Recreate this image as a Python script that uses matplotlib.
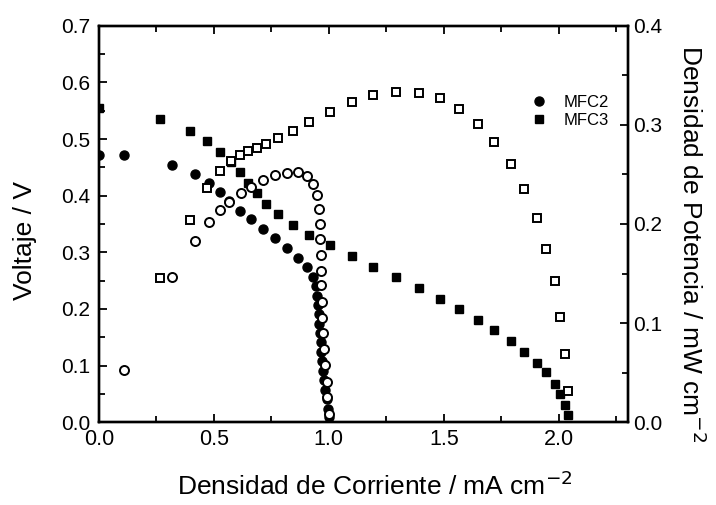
import numpy as np
import matplotlib
matplotlib.use("Agg")
import matplotlib.pyplot as plt
from matplotlib.ticker import MultipleLocator, FormatStrFormatter

plt.rcParams['font.family'] = ['Liberation Sans', 'DejaVu Sans']

# MFC2 - polarization (filled circles) and power (open circles)
i_mfc2 = [0.0, 0.11, 0.319, 0.416, 0.478, 0.526, 0.568, 0.614, 0.661, 0.714,
          0.767, 0.819, 0.867, 0.904, 0.930, 0.943, 0.949, 0.954, 0.956, 0.958,
          0.961, 0.964, 0.967, 0.971, 0.975, 0.980, 0.984, 0.990, 0.996, 1.0]
v_mfc2 = [0.471, 0.472, 0.455, 0.439, 0.423, 0.406, 0.390, 0.373, 0.358, 0.341,
          0.325, 0.307, 0.290, 0.274, 0.257, 0.240, 0.223, 0.207, 0.191, 0.174,
          0.158, 0.141, 0.124, 0.108, 0.091, 0.074, 0.057, 0.041, 0.024, 0.009]
ip_mfc2 = [0.11, 0.319, 0.416, 0.478, 0.526, 0.568, 0.616, 0.661, 0.713, 0.765,
           0.820, 0.868, 0.904, 0.932, 0.949, 0.958, 0.961, 0.961, 0.964, 0.964,
           0.967, 0.970, 0.971, 0.975, 0.980, 0.984, 0.990, 0.994, 1.001]
p_mfc2 = [0.053, 0.146, 0.183, 0.202, 0.214, 0.222, 0.231, 0.237, 0.244, 0.249,
          0.251, 0.252, 0.248, 0.240, 0.229, 0.215, 0.200, 0.185, 0.169, 0.153,
          0.138, 0.121, 0.105, 0.090, 0.074, 0.058, 0.041, 0.025, 0.008]

# MFC3 - polarization (filled squares) and power (open squares)
i_mfc3 = [0.0, 0.265, 0.396, 0.472, 0.527, 0.574, 0.613, 0.649, 0.686, 0.728,
          0.781, 0.843, 0.915, 1.004, 1.099, 1.193, 1.294, 1.39, 1.483, 1.565,
          1.648, 1.719, 1.79, 1.848, 1.904, 1.946, 1.984, 2.004, 2.026, 2.038]
v_mfc3 = [0.554, 0.535, 0.515, 0.496, 0.477, 0.460, 0.441, 0.423, 0.404, 0.386,
          0.367, 0.348, 0.330, 0.312, 0.293, 0.274, 0.256, 0.237, 0.218, 0.199,
          0.181, 0.162, 0.143, 0.124, 0.105, 0.088, 0.068, 0.049, 0.030, 0.012]
p_mfc3 = [0.145, 0.204, 0.236, 0.253, 0.264, 0.270, 0.274, 0.277, 0.281,
          0.287, 0.294, 0.303, 0.313, 0.323, 0.330, 0.333, 0.332, 0.327, 0.316,
          0.301, 0.283, 0.261, 0.235, 0.206, 0.175, 0.142, 0.106, 0.069, 0.031]

fig = plt.figure(figsize=(7.16, 5.05), dpi=100)
ax = fig.add_axes([0.138, 0.164, 0.739, 0.785])
ax2 = ax.twinx()

ax.plot(i_mfc2, v_mfc2, 'o', color='black', ms=6.5, label='MFC2', zorder=2)
ax.plot(i_mfc3, v_mfc3, 's', color='black', ms=5.7, label='MFC3', zorder=2)
ax2.plot(ip_mfc2, p_mfc2, 'o', mfc='white', mec='black', mew=1.4, ms=6.5)
ax2.plot(i_mfc3[1:], p_mfc3, 's', mfc='white', mec='black', mew=1.4, ms=5.3)

ax.set_xlim(0, 2.3)
ax.set_ylim(0, 0.7)
ax2.set_ylim(0, 0.4)

ax.xaxis.set_major_locator(MultipleLocator(0.5))
ax.xaxis.set_minor_locator(MultipleLocator(0.25))
ax.yaxis.set_major_locator(MultipleLocator(0.1))
ax.yaxis.set_minor_locator(MultipleLocator(0.05))
ax2.yaxis.set_major_locator(MultipleLocator(0.1))
ax2.yaxis.set_minor_locator(MultipleLocator(0.05))

for a in (ax, ax2):
    for s in a.spines.values():
        s.set_linewidth(1.7)
ax.tick_params(which='both', direction='in', top=True, right=False, width=1.3)
ax.tick_params(axis='x', labelsize=15.5, pad=5)
ax.tick_params(axis='y', labelsize=15, pad=6)
ax.tick_params(which='major', length=6)
ax.tick_params(which='minor', length=4)
ax2.tick_params(which='both', direction='in', width=1.3, labelsize=15, pad=4)
ax2.tick_params(which='major', length=6)
ax2.tick_params(which='minor', length=4)
ax.xaxis.set_major_formatter(FormatStrFormatter('%.1f'))
ax.yaxis.set_major_formatter(FormatStrFormatter('%.1f'))
ax2.yaxis.set_major_formatter(FormatStrFormatter('%.1f'))

fig.text(177 / 716, 1 - 495 / 505, 'Densidad de Corriente / mA cm$^{-2}$',
         fontsize=19, ha='left', va='baseline')
fig.text(25 / 716, 1 - 241 / 505, 'Voltaje / V', fontsize=19,
         rotation=90, ha='center', va='center')
fig.text(691 / 716, 1 - 244 / 505, 'Densidad de Potencia / mW cm$^{-2}$',
         fontsize=19, rotation=-90, ha='center', va='center')

ax.legend(loc='upper left', bbox_to_anchor=(0.80, 0.846), frameon=False,
          fontsize=12, borderpad=0, handlelength=1, handletextpad=1.0,
          labelspacing=0.15)

fig.savefig('out.png', dpi=100)
